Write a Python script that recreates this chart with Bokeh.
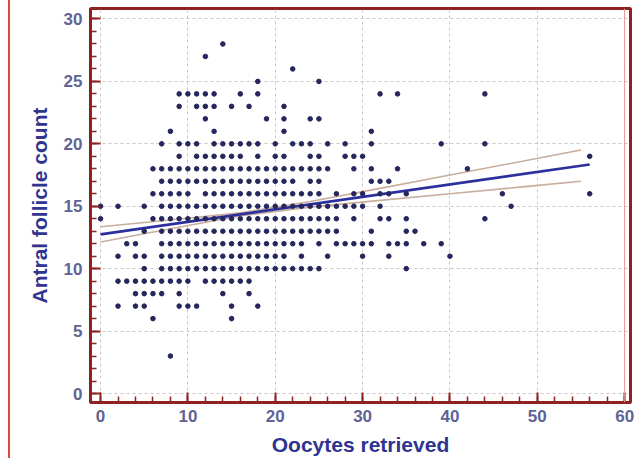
from bokeh.plotting import figure
from bokeh.models import SingleIntervalTicker, Span, ColumnDataSource
from bokeh.embed import file_html
from bokeh.resources import INLINE

# ---- data: oocytes retrieved (x) observed at each antral follicle count (y) ----
afc_28 = [14]
afc_27 = [12]
afc_26 = [22]
afc_25 = [18, 25]
afc_24 = [9, 10, 11, 12, 13, 16, 18, 32, 34, 44]
afc_23 = [9, 11, 12, 13, 15, 17, 21]
afc_22 = [12, 19, 21, 24, 25]
afc_21 = [8, 13, 21, 31]
afc_20 = [7, 9, 10, 11, 13, 14, 15, 16, 17, 18, 20, 22, 23, 24, 26, 28, 31, 39, 44]
afc_19 = [9, 11, 12, 13, 14, 15, 16, 18, 20, 21, 24, 25, 28, 29, 30, 56]
afc_18 = [6, 7, 8, 9, 10, 11, 12, 13, 14, 15, 16, 17, 18, 19, 20, 21, 22, 23, 24, 25, 26,
          29, 31, 34, 42]
afc_17 = [7, 8, 9, 10, 11, 12, 13, 14, 15, 16, 17, 18, 19, 20, 21, 22, 24, 25, 31, 32, 33]
afc_16 = [6, 7, 8, 9, 10, 12, 13, 14, 15, 16, 17, 18, 19, 20, 21, 22, 23, 24, 25, 27, 29,
          30, 32, 33, 35, 46, 56]
afc_15 = [0, 2, 5, 7, 8, 9, 10, 11, 12, 13, 14, 15, 16, 17, 18, 19, 20, 21, 22, 23, 24, 25,
          26, 27, 28, 29, 30, 32, 47]
afc_14 = [0, 6, 7, 8, 9, 10, 11, 12, 13, 14, 15, 16, 17, 18, 19, 20, 21, 22, 23, 24, 25, 26,
          27, 29, 32, 33, 35, 44]
afc_13 = [5, 7, 8, 9, 10, 11, 12, 13, 14, 15, 16, 17, 18, 19, 20, 21, 22, 23, 24, 25, 26, 27,
          31, 35, 36]
afc_12 = [3, 4, 7, 8, 9, 10, 11, 12, 13, 14, 15, 16, 17, 18, 19, 20, 21, 22, 23, 25, 27, 28,
          29, 30, 31, 33, 34, 35, 37, 39]
afc_11 = [2, 4, 5, 7, 8, 9, 10, 11, 12, 13, 14, 15, 16, 17, 18, 19, 20, 21, 23, 26, 30, 33, 40]
afc_10 = [5, 7, 8, 9, 10, 11, 12, 13, 14, 15, 16, 17, 18, 19, 20, 21, 22, 23, 24, 25, 35]
afc_9 = [2, 3, 4, 5, 6, 7, 8, 9, 10, 12, 13, 14, 15, 16, 17]
afc_8 = [4, 5, 6, 7, 9, 14, 17]
afc_7 = [2, 4, 5, 9, 10, 11, 15, 18]
afc_6 = [6, 15]
afc_3 = [8]

afc_levels = [28, 27, 26, 25, 24, 23, 22, 21, 20, 19, 18, 17, 16, 15, 14, 13, 12, 11, 10,
              9, 8, 7, 6, 3]
afc_rows = [afc_28, afc_27, afc_26, afc_25, afc_24, afc_23, afc_22, afc_21, afc_20, afc_19,
            afc_18, afc_17, afc_16, afc_15, afc_14, afc_13, afc_12, afc_11, afc_10, afc_9,
            afc_8, afc_7, afc_6, afc_3]

# regression line and its 95% confidence band
fit_x = [0, 56]
fit_y = [12.75, 18.35]
band_x = [0, 8, 16, 24, 32, 40, 48, 55]
band_hi = [13.36, 13.90, 14.47, 15.38, 16.43, 17.50, 18.57, 19.50]
band_lo = [12.14, 13.20, 14.23, 14.93, 15.47, 16.00, 16.53, 17.00]

x_ticks_end = 60

pts_x, pts_y = [], []
for lvl, row in zip(afc_levels, afc_rows):
    for v in row:
        pts_x.append(v)
        pts_y.append(lvl)
src = ColumnDataSource(dict(x=pts_x, y=pts_y))

DARK_RED = "#8e2222"
TITLE_C = "#2f348e"
TICK_C = "#5f6396"
FONT = "Liberation Sans"

p = figure(width=626, height=458, x_range=(-1.15, 60.67), y_range=(-0.72, 30.84),
           output_backend="svg", toolbar_location=None,
           min_border_left=80, min_border_right=6, min_border_top=8, min_border_bottom=56,
           background_fill_color="white", border_fill_color="white")
p.styles = {"margin-left": "8px", "border-left": "2px solid #e0443f"}

p.outline_line_color = DARK_RED
p.outline_line_width = 3

p.xaxis.ticker = SingleIntervalTicker(interval=10, num_minor_ticks=5)
p.yaxis.ticker = SingleIntervalTicker(interval=5, num_minor_ticks=5)
p.xgrid.ticker = SingleIntervalTicker(interval=10)
p.ygrid.ticker = SingleIntervalTicker(interval=5)

for ax in (p.xaxis, p.yaxis):
    ax.axis_line_color = DARK_RED
    ax.axis_line_width = 3
    ax.major_tick_line_color = DARK_RED
    ax.major_tick_line_width = 2
    ax.minor_tick_line_color = DARK_RED
    ax.minor_tick_line_width = 1.5
    ax.major_tick_out = 0
    ax.major_tick_in = 10
    ax.minor_tick_out = 0
    ax.minor_tick_in = 6
    ax.major_label_text_font = FONT
    ax.major_label_text_font_style = "bold"
    ax.major_label_text_font_size = "17px"
    ax.major_label_text_color = TICK_C
    ax.axis_label_text_font = FONT
    ax.axis_label_text_font_style = "bold"
    ax.axis_label_text_font_size = "21px"
    ax.axis_label_text_color = TITLE_C

p.xaxis.axis_label = "Oocytes retrieved"
p.yaxis.axis_label = "Antral follicle count"
p.xaxis.major_label_standoff = 7
p.xaxis.axis_label_standoff = 8
p.yaxis.major_label_standoff = 8
p.yaxis.axis_label_standoff = 10

for g in (p.xgrid, p.ygrid):
    g.grid_line_color = "#bdb6ba"
    g.grid_line_dash = "3 3"
    g.grid_line_alpha = 0.8
    g.grid_line_width = 1

p.add_layout(Span(location=x_ticks_end, dimension="height", line_color="#e59a9a",
                  line_width=1))

p.line(band_x, band_hi, line_color="#c8ae9c", line_width=1.6)
p.line(band_x, band_lo, line_color="#c8ae9c", line_width=1.6)
p.line(fit_x, fit_y, line_color="#2b309e", line_width=2.6)
p.scatter("x", "y", source=src, size=4.6, color="#25275c")

open("out.html", "w").write(file_html(p, INLINE))
